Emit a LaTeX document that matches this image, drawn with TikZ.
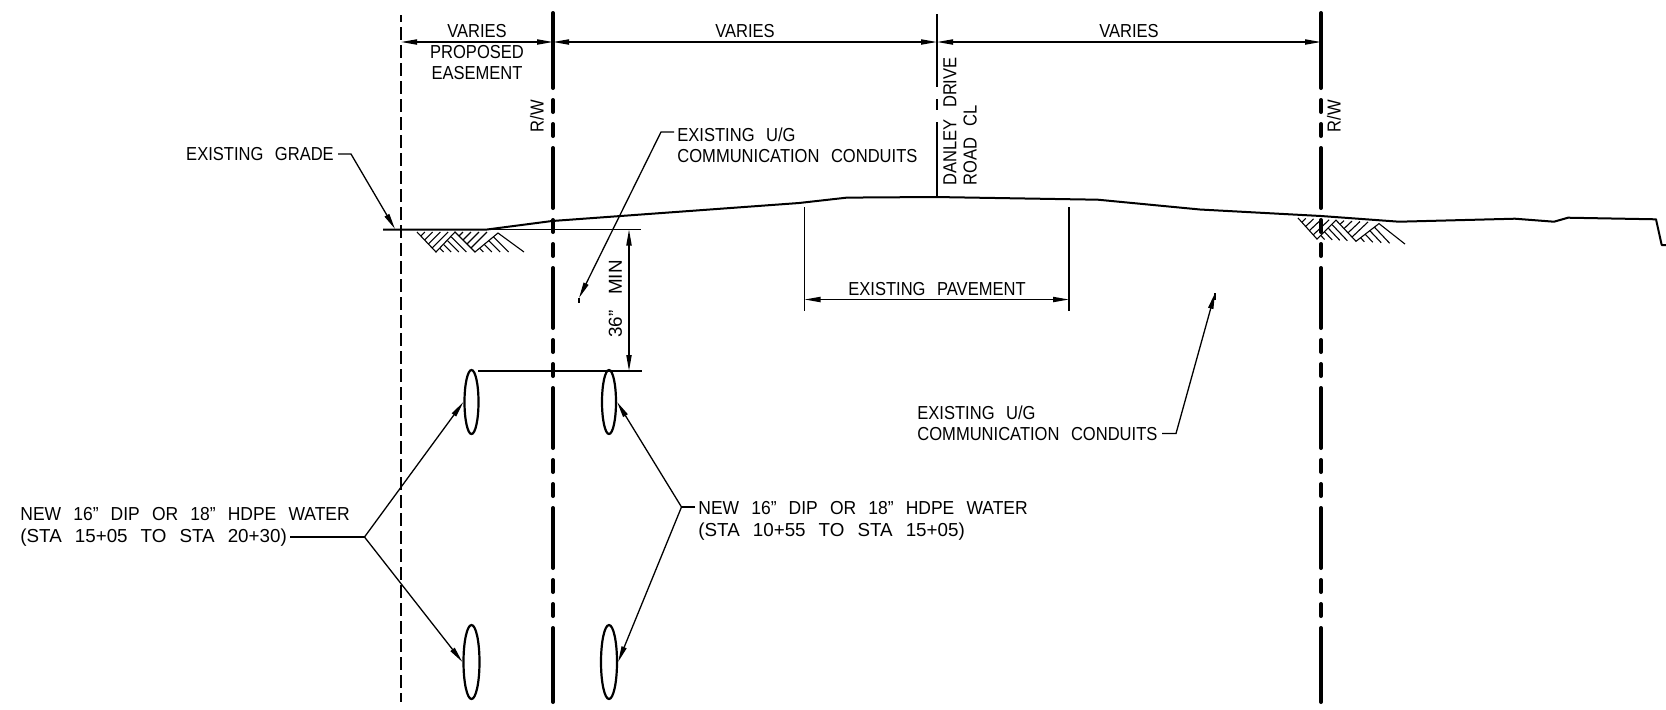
\documentclass[tikz,border=0pt]{standalone}
\usepackage{fontspec}
\setmainfont[FakeStretch=0.88,WordSpace=2.5]{Liberation Sans}
\newfontfamily\wida[FakeStretch=0.93,WordSpace=2.5]{Liberation Sans}
\newfontfamily\widb[FakeStretch=1.0,WordSpace=2.5]{Liberation Sans}
\usetikzlibrary{arrows.meta,shapes.geometric}
\tikzset{
 thinl/.style={line width=.65pt,black},
 dimarrow/.style={thinl,{Triangle[length=8pt,width=2.6pt]}-{Triangle[length=8pt,width=2.6pt]}},
 leader/.style={thinl,-{Triangle[length=8pt,width=2.6pt]}},
 rwline/.style={line width=2pt,line cap=round,dash pattern=on 30pt off 6pt on 6pt off 6pt on 6pt off 6pt},
 rwend/.style={line width=2pt,line cap=round},
 ground/.style={line width=1pt,line join=round},
 pipe/.style={draw,ellipse,line width=1.1pt,inner sep=0pt,minimum width=7pt,fill=none},
 lbl/.style={inner sep=0pt,font=\fontsize{9.4}{10}\selectfont,align=left},
 lblc/.style={lbl,align=center},
 hatch/.style={line width=.55pt},
 hatches/.pic={
  \draw[hatch] (417,232) -- (436,252) -- (455,232) -- (475,252) -- (498,233) -- (524,252);
  \foreach \t in {1,2,3,4}{
   \draw[hatch] ({417+\t*3.8},{232+\t*4}) -- ({417+\t*7.8},232);
   \draw[hatch] ({436+\t*3.8},{252-\t*3.8}) -- ({436+\t*7.6},252);
   \draw[hatch] ({455+\t*4},{232+\t*4}) -- ({455+\t*8},232);
   \draw[hatch] ({475+\t*4.6},{252-\t*3.8}) -- ({475+\t*8.4},252);
  }
 },
}
\begin{document}
\begin{tikzpicture}[x=.5pt,y=-.5pt]
\useasboundingbox (0,0) rectangle (1666,709);
% coordinates
\coordinate (dt) at (401,15); \coordinate (db) at (401,702);
\coordinate (r1t) at (553,13); \coordinate (r1a) at (553,28); \coordinate (r1b) at (553,689); \coordinate (r1x) at (553,702);
\coordinate (r2t) at (1321,13); \coordinate (r2a) at (1321,28); \coordinate (r2b) at (1321,689); \coordinate (r2x) at (1321,702);
\coordinate (cl) at (937,14); \coordinate (clb) at (937,196);
\coordinate (dl) at (401,42); \coordinate (dr1) at (553,42); \coordinate (dcl) at (937,42); \coordinate (dr2) at (1321,42);
% hatch
\pic at (0,0) {hatches};
\begin{scope}[cm={1,-.057,0,1,(440.5pt,18.9pt)}]
\pic[transform shape] at (0,0) {hatches};
\end{scope}
% vertical reference lines
\draw[line width=.9pt,dash pattern=on 6.7pt off 2.3pt,dash phase=3pt] (dt) -- (db);
\draw[rwend] (r1t) -- (r1a); \draw[rwline] (r1a) -- (r1b); \draw[rwend] (r1b) -- (r1x);
\draw[rwend] (r2t) -- (r2a); \draw[rwline] (r2a) -- (r2b); \draw[rwend] (r2b) -- (r2x);
\draw[thinl,line width=.8pt,dash pattern=on 36.5pt off 6pt on 5.5pt off 6pt on 40pt off 0pt] (cl) -- (clb);
% ground
\draw[ground] (383,229.5) -- (487,229.5) -- (552,221) -- (799,203) -- (847,197.6) -- (935,197) -- (1098,199.7) -- (1200,209.5) -- (1321,216) -- (1399,221.7) -- (1515,218.7) -- (1554,221.7) -- (1568,217.7) -- (1656,219.3) -- (1661.7,245) -- (1666,245);
\draw[thinl] (487,229.5) -- (641,229.5);
% dims
\draw[dimarrow] (dl) -- (dr1);
\draw[dimarrow] (dr1) -- (dcl);
\draw[dimarrow] (dcl) -- (dr2);
\node[lbl] (v1) at (477,31) {VARIES};
\node[lblc,font=\fontsize{9.4}{10.2}\selectfont] (pe) at (477,62.5) {PROPOSED\\EASEMENT};
\node[lbl] (v2) at (745,31) {VARIES};
\node[lbl] (v3) at (1129,31) {VARIES};
\node[lbl,rotate=90] (rw1) at (537,116) {R/W};
\node[lbl,rotate=90] (rw2) at (1334,116) {R/W};
\node[lbl,rotate=90,anchor=north west,font=\fontsize{9.4}{10.2}\selectfont] (dd) at (943,186) {DANLEY DRIVE\\ROAD CL};
% pavement
\coordinate (p1t) at (804.5,207); \coordinate (p1b) at (804.5,311);
\coordinate (p2t) at (1069,207); \coordinate (p2b) at (1069,311);
\coordinate (pa) at (804.5,299.5); \coordinate (pb) at (1069,299.5);
\draw[thinl] (p1t) -- (p1b); \draw[thinl] (p2t) -- (p2b);
\draw[dimarrow] (pa) -- (pb);
\node[lbl] (pv) at (937,289) {EXISTING PAVEMENT};
% pipes
\node[pipe,minimum height=32pt] (a) at (471.5,402) {};
\node[pipe,minimum height=32pt] (b) at (609,402) {};
\node[pipe,minimum height=37pt,minimum width=8pt] (c) at (471.5,662) {};
\node[pipe,minimum height=37pt,minimum width=8pt] (d) at (609,662) {};
% 36 min
\coordinate (m1) at (478,371); \coordinate (m2) at (642,371);
\coordinate (ma) at (629,229.5); \coordinate (mb) at (629,371);
\draw[thinl] (m1) -- (m2);
\draw[dimarrow] (ma) -- (mb);
\node[lbl,rotate=90,font=\widb\fontsize{9.4}{10}\selectfont] (min) at (615.5,299) {36”\hspace{8pt}MIN};
% leaders
\node[lbl] (eg) at (260,154) {EXISTING GRADE};
\coordinate (eg1) at (338,154); \coordinate (eg2) at (351,154); \coordinate (eg3) at (395,229);
\draw[thinl,-{Triangle[length=8pt,width=2.6pt]}] (eg1) -- (eg2) -- (eg3);
\node[lbl,anchor=north west,font=\fontsize{9.4}{10.6}\selectfont] (ug1) at (677,127.5) {EXISTING U/G\\COMMUNICATION CONDUITS};
\coordinate (u1) at (674,132); \coordinate (u2) at (661,132); \coordinate (u3) at (579,298);
\draw[thinl,-{Triangle[length=8pt,width=2.6pt]}] (u1) -- (u2) -- (u3);
\draw[line width=.9pt] (u3) -- ++(0,5);
\node[lbl,anchor=north west,font=\fontsize{9.4}{10.6}\selectfont] (ug2) at (917,405) {EXISTING U/G\\COMMUNICATION CONDUITS};
\coordinate (w1) at (1162,433.5); \coordinate (w2) at (1176,433.5); \coordinate (w3) at (1215,293);
\draw[thinl,-{Triangle[length=8pt,width=2.6pt]}] (w1) -- (w2) -- (w3);
\draw[line width=.9pt] (w3) -- ++(0,7);
\node[lbl,anchor=north west,font=\fontsize{9.4}{11}\selectfont] (nl) at (20,507) {\wida NEW 16” DIP OR 18” HDPE WATER\\\widb (STA 15+05 TO STA 20+30)};
\coordinate (l1) at (290,537); \coordinate (l2) at (364.5,537);
\draw[thinl] (l1) -- (l2);
\draw[leader] (l2) -- (a.west);
\draw[leader] (l2) -- (c.west);
\node[lbl,anchor=north west,font=\fontsize{9.4}{11}\selectfont] (nr) at (698,501) {\wida NEW 16” DIP OR 18” HDPE WATER\\\widb (STA 10+55 TO STA 15+05)};
\coordinate (r0) at (695,507); \coordinate (r1) at (681.5,507);
\draw[thinl] (r0) -- (r1);
\draw[leader] (r1) -- (b.east);
\draw[leader] (r1) -- (d.east);
\end{tikzpicture}
\end{document}
